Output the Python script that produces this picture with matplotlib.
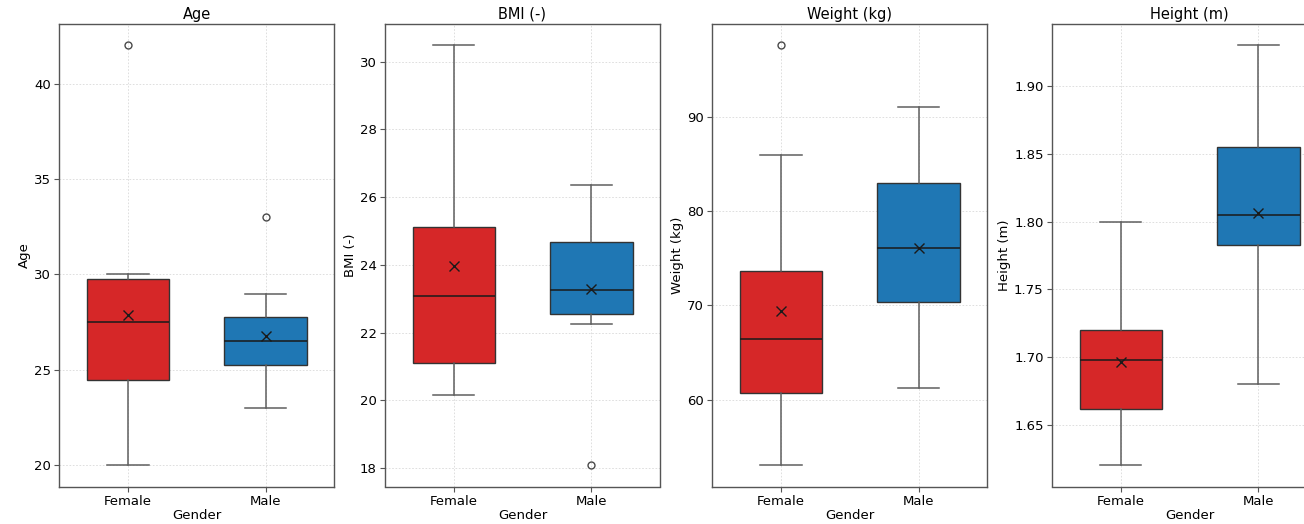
import matplotlib
matplotlib.use("Agg")
import matplotlib.pyplot as plt

genders = ["Female", "Male"]
colors = ["#d62728", "#1f77b4"]

titles = ["Age", "BMI (-)", "Weight (kg)", "Height (m)"]

age_whislo = [20.0, 23.0]
age_q1 = [24.5, 25.25]
age_med = [27.5, 26.5]
age_q3 = [29.75, 27.75]
age_whishi = [30.0, 29.0]
age_mean = [27.9, 26.8]
age_fliers = [[42.0], [33.0]]

bmi_whislo = [20.15, 22.25]
bmi_q1 = [21.1, 22.55]
bmi_med = [23.07, 23.25]
bmi_q3 = [25.12, 24.67]
bmi_whishi = [30.48, 26.35]
bmi_mean = [23.97, 23.28]
bmi_fliers = [[], [18.08]]

weight_whislo = [53.0, 61.2]
weight_q1 = [60.7, 70.4]
weight_med = [66.4, 76.1]
weight_q3 = [73.6, 82.95]
weight_whishi = [86.0, 91.1]
weight_mean = [69.4, 76.1]
weight_fliers = [[97.6], []]

height_whislo = [1.62, 1.68]
height_q1 = [1.6615, 1.783]
height_med = [1.698, 1.805]
height_q3 = [1.72, 1.855]
height_whishi = [1.80, 1.93]
height_mean = [1.696, 1.806]
height_fliers = [[], []]

variables = [
    (age_whislo, age_q1, age_med, age_q3, age_whishi, age_mean, age_fliers),
    (bmi_whislo, bmi_q1, bmi_med, bmi_q3, bmi_whishi, bmi_mean, bmi_fliers),
    (weight_whislo, weight_q1, weight_med, weight_q3, weight_whishi, weight_mean, weight_fliers),
    (height_whislo, height_q1, height_med, height_q3, height_whishi, height_mean, height_fliers),
]

W, H = 1304, 524
fig = plt.figure(figsize=(W / 100, H / 100), dpi=100)

lefts = [59.3, 385.0, 712.3, 1052.0]
ax_w = 275.0
ax_top, ax_bot = 24.3, 486.5

for i, (title, var) in enumerate(zip(titles, variables)):
    ax = fig.add_axes([lefts[i] / W, 1 - ax_bot / H, ax_w / W, (ax_bot - ax_top) / H])
    wl, q1, med, q3, wh, mn, fl = var
    stats = []
    for j, g in enumerate(genders):
        stats.append(dict(label=g, whislo=wl[j], q1=q1[j], med=med[j], q3=q3[j],
                          whishi=wh[j], mean=mn[j], fliers=fl[j]))
    bp = ax.bxp(stats, positions=[0, 1], widths=0.6, patch_artist=True,
                showmeans=True, meanline=False,
                boxprops=dict(edgecolor="#333333", linewidth=1.0),
                whiskerprops=dict(color="#5f5f5f", linewidth=1.1),
                capprops=dict(color="#5f5f5f", linewidth=1.1),
                medianprops=dict(color="#1a1a1a", linewidth=1.1),
                meanprops=dict(marker="x", markeredgecolor="#1a1a1a",
                               markerfacecolor="#1a1a1a", markersize=7,
                               markeredgewidth=1.0),
                flierprops=dict(marker="o", markerfacecolor="none",
                                markeredgecolor="#4a4a4a", markersize=5,
                                markeredgewidth=1.0))
    for patch, c in zip(bp["boxes"], colors):
        patch.set_facecolor(c)
    ax.set_xlim(-0.5, 1.5)
    ax.set_xticks([0, 1])
    ax.set_xticklabels(genders)
    ax.set_axisbelow(True)
    ax.grid(True, linestyle=(0, (2, 2)), color="#d9d9d9", linewidth=0.6)
    ax.set_title(title, fontsize=10.5, pad=4)
    ax.set_xlabel("Gender", fontsize=9.5, labelpad=1)
    ax.set_ylabel(title, fontsize=9.5, labelpad=2)
    ax.tick_params(labelsize=9.5, pad=2.5, color="#555555", length=3.5)
    for s in ax.spines.values():
        s.set_color("#555555")
        s.set_linewidth(1.0)

fig.savefig("out.png", dpi=100)
